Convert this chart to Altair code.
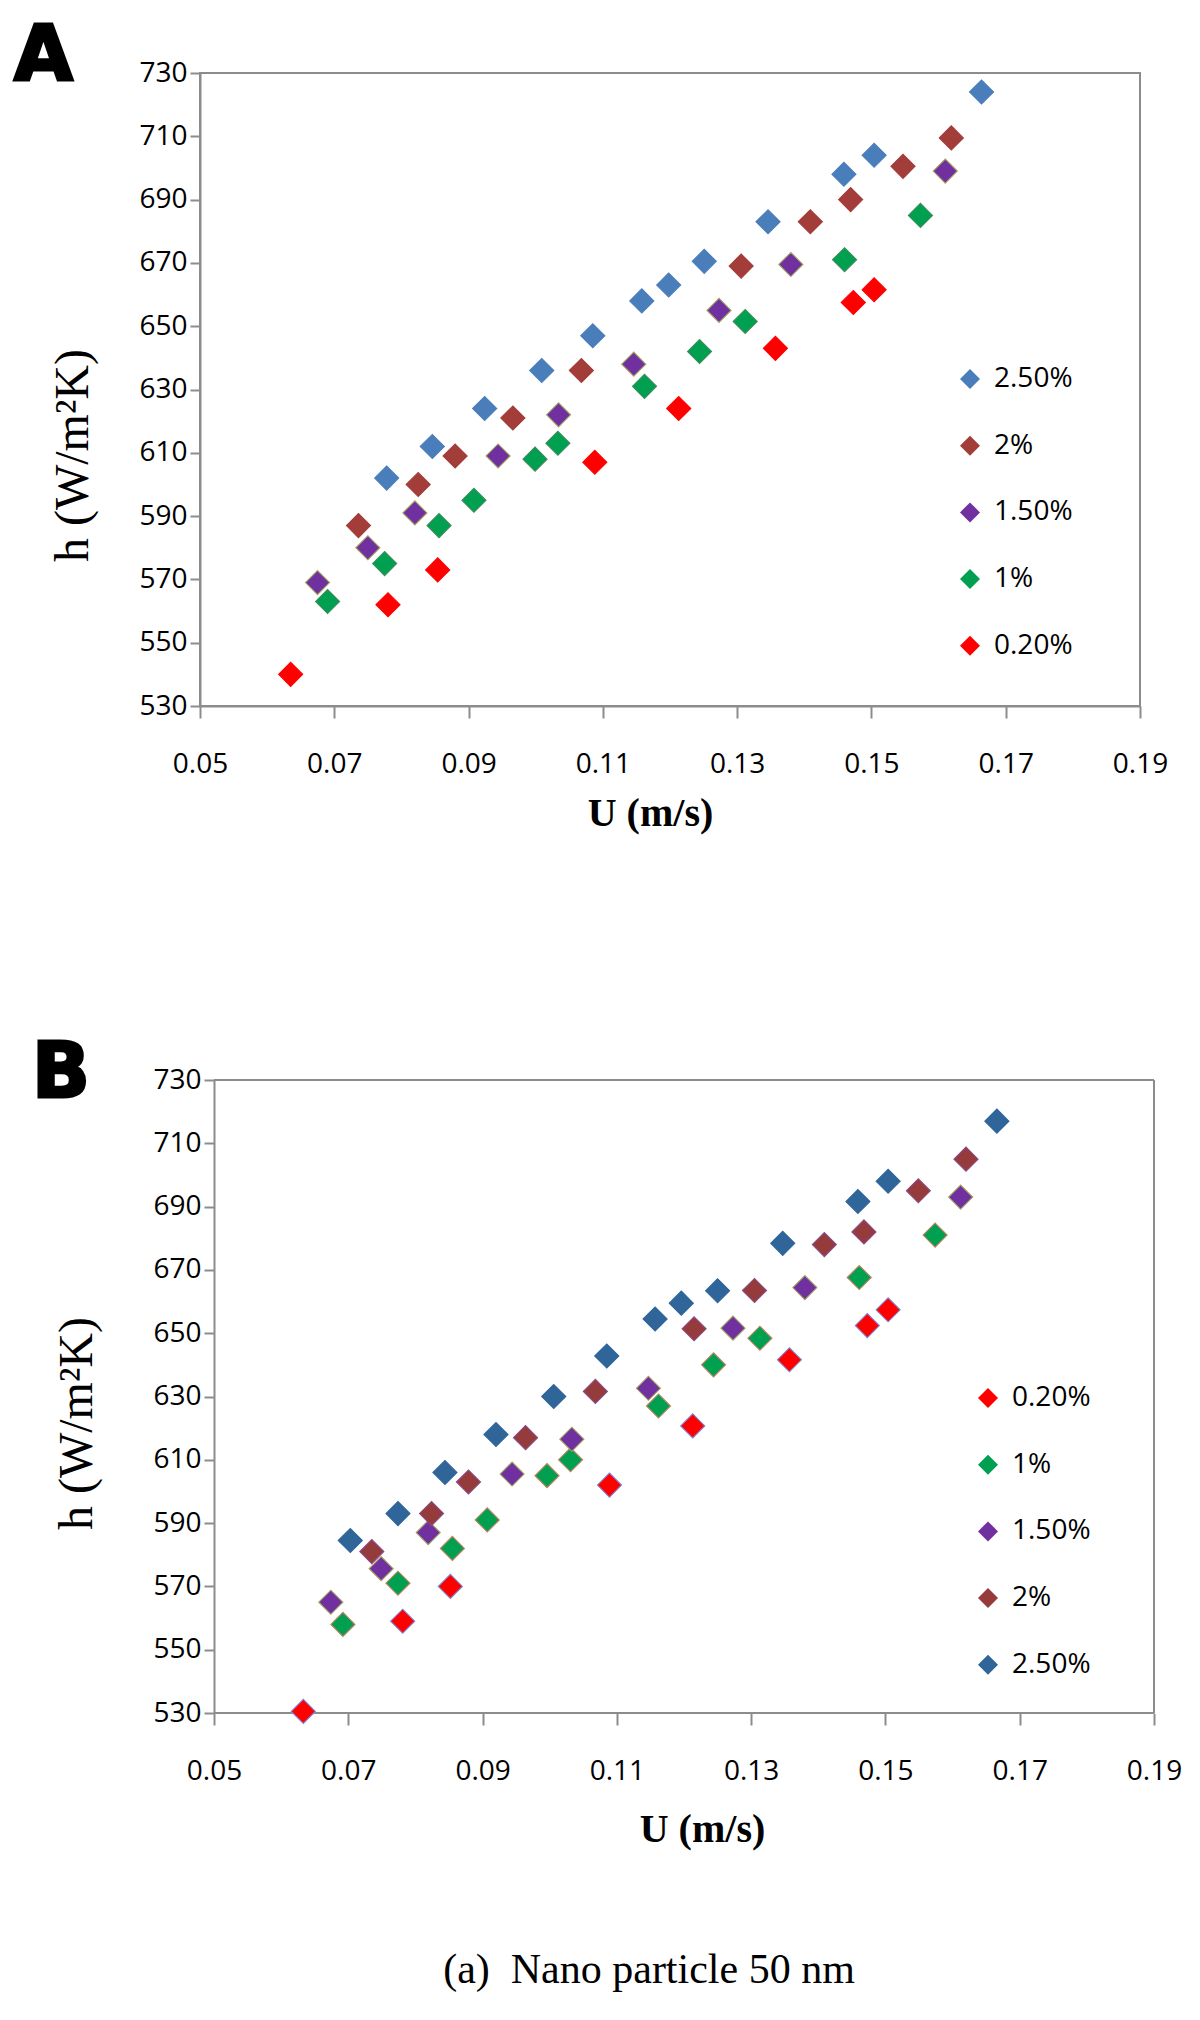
import altair as alt
import pandas as pd

# ---------------- Panel A data (U in m/s, h in W/m2K) ----------------
a_u_250 = [0.0778, 0.0846, 0.0924, 0.1009, 0.1085, 0.1158, 0.1198, 0.1251, 0.1346, 0.1459, 0.1504, 0.1664]
a_h_250 = [602, 612, 624, 636, 647, 658, 663, 670.5, 683, 698, 704, 724]
a_u_200 = [0.0736, 0.0825, 0.0880, 0.0966, 0.1068, 0.1306, 0.1409, 0.1469, 0.1547, 0.1619]
a_h_200 = [587, 600, 609, 621, 636, 669, 683, 690, 700.5, 709.5]
a_u_150 = [0.0675, 0.0750, 0.0820, 0.0944, 0.1034, 0.1146, 0.1273, 0.1380, 0.1610]
a_h_150 = [569, 580, 591, 609, 622, 638, 655, 669.5, 699]
a_u_100 = [0.0690, 0.0775, 0.0856, 0.0908, 0.0999, 0.1033, 0.1162, 0.1244, 0.1312, 0.1460, 0.1573]
a_h_100 = [563, 575, 587, 595, 608, 613, 631, 642, 651.5, 671, 685]
a_u_020 = [0.0635, 0.0780, 0.0854, 0.1088, 0.1213, 0.1357, 0.1473, 0.1504]
a_h_020 = [540, 562, 573, 607, 624, 643, 657.5, 661.5]

# ---------------- Panel B data ----------------
b_u_020 = [0.0633, 0.0781, 0.0852, 0.1089, 0.1213, 0.1357, 0.1473, 0.1504]
b_h_020 = [530.5, 559, 570, 602, 620.7, 641.6, 652.4, 657.4]
b_u_100 = [0.0692, 0.0774, 0.0855, 0.0907, 0.0996, 0.1031, 0.1162, 0.1244, 0.1313, 0.1461, 0.1574]
b_h_100 = [558, 571, 582, 591, 605, 610, 627, 640, 648.4, 667.6, 681]
b_u_150 = [0.0674, 0.0749, 0.0819, 0.0944, 0.1033, 0.1147, 0.1273, 0.1380, 0.1612]
b_h_150 = [565, 575.6, 587, 605.5, 616.5, 632.6, 651.6, 664.4, 693]
b_u_200 = [0.0735, 0.0824, 0.0879, 0.0964, 0.1068, 0.1215, 0.1305, 0.1409, 0.1468, 0.1549, 0.1620]
b_h_200 = [581, 593, 603, 617, 631.6, 651.4, 663.5, 678, 682, 695, 705]
b_u_250 = [0.0703, 0.0774, 0.0844, 0.0920, 0.1006, 0.1085, 0.1157, 0.1196, 0.1250, 0.1347, 0.1459, 0.1504, 0.1666]
b_h_250 = [584.5, 593, 606, 618, 630, 642.8, 654.5, 659.5, 663.4, 678.4, 691.6, 698, 717]

order_a = ["2.50%", "2%", "1.50%", "1%", "0.20%"]
colors_a = ["#4A7EBB", "#A33D3A", "#7030A0", "#00A050", "#FF0000"]
strokes_a = ["#4A7EBB", "#A33D3A", "#A3A35E", "#3C8C5A", "#FF0000"]

order_b = ["0.20%", "1%", "1.50%", "2%", "2.50%"]
colors_b = ["#FF0000", "#00A050", "#7030A0", "#953B3B", "#2F6599"]
strokes_b = ["#8080D0", "#C08060", "#A3A35E", "#8A4A8A", "#2F6599"]

x_ticks = [0.05, 0.07, 0.09, 0.11, 0.13, 0.15, 0.17, 0.19]
y_ticks = [530, 550, 570, 590, 610, 630, 650, 670, 690, 710, 730]
x_min, x_max = 0.05, 0.19
y_min, y_max = 530, 730


def frame(pairs):
    rows = []
    for name, us, hs in pairs:
        for u, h in zip(us, hs):
            rows.append({"series": name, "u": u, "h": h})
    return pd.DataFrame(rows)


df_a = frame([
    ("0.20%", a_u_020, a_h_020), ("1%", a_u_100, a_h_100), ("1.50%", a_u_150, a_h_150),
    ("2%", a_u_200, a_h_200), ("2.50%", a_u_250, a_h_250),
])
df_b = frame([
    ("0.20%", b_u_020, b_h_020), ("1%", b_u_100, b_h_100), ("1.50%", b_u_150, b_h_150),
    ("2%", b_u_200, b_h_200), ("2.50%", b_u_250, b_h_250),
])

GRAY = "#8c8c8c"
W, H = 940, 633
SHIFT_B = 14  # panel B frame sits this many px to the right of panel A's frame


def text_layer(txt, x, y, **kw):
    return alt.Chart(pd.DataFrame({"t": [txt]})).mark_text(**kw).encode(
        x=alt.value(x), y=alt.value(y), text="t:N")


def panel(df, order, colors, strokes, leg_x, leg_y, xt_x, xt_y, yt_x, yt_y,
          x_domain, y_offset, x_domain_line):
    xscale = alt.Scale(domain=x_domain, nice=False, zero=False)
    yscale = alt.Scale(domain=[y_min, y_max], nice=False, zero=False)
    pts = alt.Chart(df).mark_point(shape="diamond", filled=True, size=580, opacity=1,
                                   strokeWidth=1.1).encode(
        x=alt.X("u:Q", scale=xscale,
                axis=alt.Axis(values=x_ticks, format=".2f", title="U (m/s)",
                              titleFont="Liberation Serif", titleFontWeight="bold",
                              titleFontSize=40, titleColor="black",
                              titleX=xt_x, titleY=xt_y, titleBaseline="middle",
                              titleAlign="center",
                              labelFont="Open Sans", labelFontSize=28, labelColor="black",
                              labelPadding=32, labelFlush=False, labelOverlap=False,
                              tickSize=12, tickColor=GRAY, tickWidth=2,
                              domain=x_domain_line,
                              domainColor=GRAY, domainWidth=2, grid=False)),
        y=alt.Y("h:Q", scale=yscale,
                axis=alt.Axis(values=y_ticks, title="h (W/m²K)",
                              titleFont="Liberation Serif", titleFontWeight="normal",
                              titleFontSize=48, titleColor="black",
                              titleX=yt_x, titleY=yt_y, titleAngle=270,
                              titleBaseline="middle", titleAlign="center",
                              labelFont="Open Sans", labelFontSize=28, labelColor="black",
                              labelPadding=3, labelFlush=False, labelOverlap=False,
                              tickSize=10, tickColor=GRAY, tickWidth=2, offset=y_offset,
                              domainColor=GRAY, domainWidth=2, grid=False)),
        color=alt.Color("series:N", scale=alt.Scale(domain=order, range=colors),
                        legend=alt.Legend(orient="none", legendX=leg_x, legendY=leg_y,
                                          title=None, symbolType="diamond", symbolSize=400,
                                          symbolStrokeWidth=0, labelFont="Open Sans",
                                          labelFontSize=28, labelColor="black",
                                          labelOffset=10, rowPadding=38.7, padding=0)),
        stroke=alt.Stroke("series:N", scale=alt.Scale(domain=order, range=strokes),
                          legend=None),
    )
    return pts


chart_a = alt.layer(
    panel(df_a, order_a, colors_a, strokes_a, 756, 292, 450, 107, -127, 382,
          [x_min, x_max], 0, True),
    text_layer("A", -186, -53, align="left", baseline="top", font="DejaVu Sans",
               fontSize=76, fontWeight="bold", color="black", stroke="black",
               strokeWidth=3),
).properties(width=W, height=H)

# Panel B: the plot group is widened on the left so its frame starts SHIFT_B px further right
x_min_b = x_min - SHIFT_B * (x_max - x_min) / W
frame_b = pd.DataFrame({
    "x": [x_min, x_min, x_max],
    "x2": [x_max, x_max, x_max],
    "y": [y_max, y_min, y_min],
    "y2": [y_max, y_min, y_max],
})
border_b = alt.Chart(frame_b).mark_rule(color=GRAY, strokeWidth=2).encode(
    x=alt.X("x:Q", scale=alt.Scale(domain=[x_min_b, x_max], nice=False, zero=False)),
    x2="x2:Q",
    y=alt.Y("y:Q", scale=alt.Scale(domain=[y_min, y_max], nice=False, zero=False)),
    y2="y2:Q",
)

chart_b = alt.layer(
    border_b,
    panel(df_b, order_b, colors_b, strokes_b, 760 + SHIFT_B, 304, 488 + SHIFT_B, 116,
          -137, 343, [x_min_b, x_max], -SHIFT_B, False),
    text_layer("B", -182 + SHIFT_B, -43, align="left", baseline="top", font="DejaVu Sans",
               fontSize=76, fontWeight="bold", color="black", stroke="black",
               strokeWidth=3),
    text_layer("(a)\u00a0\u00a0Nano particle 50 nm", 435 + SHIFT_B, 890, align="center",
               baseline="middle", font="Liberation Serif", fontSize=42, color="black"),
).properties(width=W + SHIFT_B, height=H,
             view=alt.ViewBackground(stroke="transparent"))

chart = alt.vconcat(chart_a, chart_b, spacing=201).properties(
    padding={"left": 5, "top": 10, "right": 0, "bottom": 0},
    background="white",
).resolve_scale(color="independent", stroke="independent").resolve_legend(
    color="independent", stroke="independent"
).configure_view(stroke=GRAY, strokeWidth=2)

chart.save("out.html", embed_options={"renderer": "svg", "actions": False})
